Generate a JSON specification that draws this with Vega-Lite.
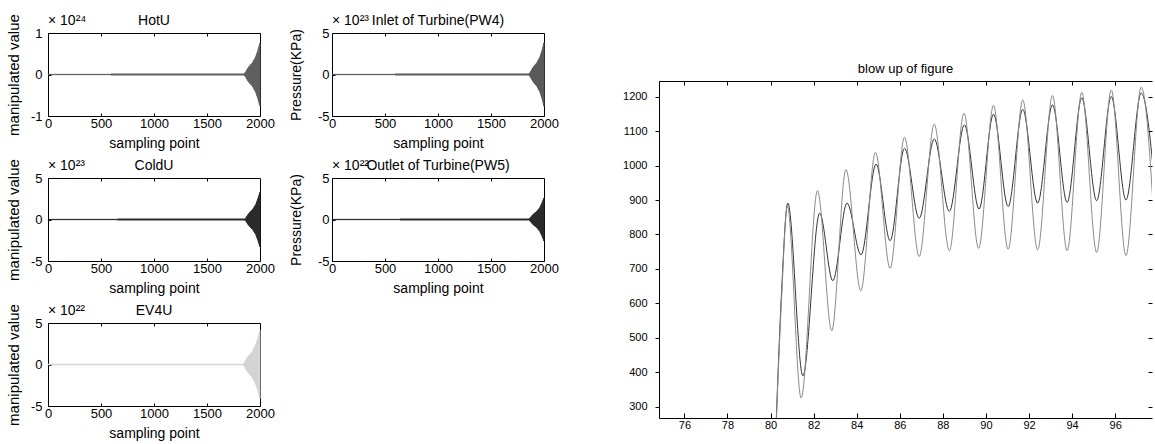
{
  "$schema": "https://vega.github.io/schema/vega-lite/v6.json",
  "padding": {"left": 5, "top": 13, "right": 0, "bottom": 0},
  "background": "white",
  "config": {
    "font": "Liberation Sans",
    "view": {"stroke": "black", "strokeWidth": 1},
    "axis": {"grid": false, "domainColor": "black", "tickColor": "black", "labelColor": "black", "titleColor": "black", "titleFontWeight": "normal", "labelFontSize": 13, "titleFontSize": 14, "labelFlush": false, "labelOverlap": false},
    "title": {"fontWeight": "normal", "color": "black", "fontSize": 13}
  },
  "spacing": 63,
  "hconcat": [
    {
      "columns": 2,
      "bounds": "flush",
      "spacing": {"row": 62, "column": 72},
      "concat": [
        {
          "width": 212, "height": 83,
          "resolve": {"axis": {"x": "independent", "y": "independent"}},
          "layer": [
            {
              "data": {"values": [
                {"x": 0, "hi": 0.003, "lo": -0.003}, {"x": 592, "hi": 0.003, "lo": -0.003},
                {"x": 593, "hi": 0.012, "lo": -0.012}, {"x": 1849, "hi": 0.012, "lo": -0.012},
                {"x": 1865, "hi": 0.06, "lo": -0.06}, {"x": 1880, "hi": 0.13, "lo": -0.13},
                {"x": 1896, "hi": 0.19, "lo": -0.19}, {"x": 1928, "hi": 0.28, "lo": -0.28},
                {"x": 1959, "hi": 0.42, "lo": -0.42}, {"x": 1980, "hi": 0.58, "lo": -0.58},
                {"x": 2000, "hi": 0.76, "lo": -0.76}
              ]},
              "mark": {"type": "area", "color": "#5f5f5f", "stroke": "#5f5f5f", "strokeWidth": 1},
              "encoding": {
                "x": {"field": "x", "type": "quantitative", "scale": {"domain": [0, 2000], "nice": false, "zero": false}, "axis": {"title": "sampling point", "values": [0, 500, 1000, 1500, 2000], "tickSize": -3, "labelPadding": 4, "titlePadding": 6, "domain": false, "labelExpr": "'' + datum.value"}},
                "y": {"field": "hi", "type": "quantitative", "scale": {"domain": [-1, 1], "nice": false}, "axis": {"title": "manipulated value", "values": [-1, 0, 1], "tickSize": -3, "labelPadding": 9, "titlePadding": 9, "titleFontSize": 15, "domain": false, "labelExpr": "'' + datum.value"}},
                "y2": {"field": "lo"}
              }
            },
            {
              "data": {"values": [{"t": "× 10²⁴"}]},
              "mark": {"type": "text", "align": "left", "baseline": "alphabetic", "dy": -8, "fontSize": 14},
              "encoding": {
                "text": {"field": "t"},
                "x": {"datum": 0, "type": "quantitative", "axis": {"orient": "top", "values": [500, 1000, 1500], "tickSize": -3, "labels": false, "domain": false, "title": null}},
                "y": {"datum": 1, "type": "quantitative", "axis": {"orient": "right", "values": [0], "tickSize": -3, "labels": false, "domain": false, "title": null}}
              }
            },
            {
              "data": {"values": [{"t": "HotU"}]},
              "mark": {"type": "text", "align": "center", "baseline": "alphabetic", "dy": -8, "fontSize": 14},
              "encoding": {"text": {"field": "t"}, "x": {"datum": 1000, "type": "quantitative", "axis": null}, "y": {"datum": 1, "type": "quantitative", "axis": null}}
            }
          ]
        },
        {
          "width": 212, "height": 83,
          "resolve": {"axis": {"x": "independent", "y": "independent"}},
          "layer": [
            {
              "data": {"values": [
                {"x": 0, "hi": 0.015, "lo": -0.015}, {"x": 595, "hi": 0.015, "lo": -0.015},
                {"x": 596, "hi": 0.06, "lo": -0.06}, {"x": 1858, "hi": 0.06, "lo": -0.06},
                {"x": 1872, "hi": 0.3, "lo": -0.3}, {"x": 1887, "hi": 0.65, "lo": -0.65},
                {"x": 1902, "hi": 0.95, "lo": -0.95}, {"x": 1932, "hi": 1.4, "lo": -1.4},
                {"x": 1962, "hi": 2.1, "lo": -2.1}, {"x": 1982, "hi": 2.9, "lo": -2.9},
                {"x": 2000, "hi": 3.85, "lo": -3.85}
              ]},
              "mark": {"type": "area", "color": "#5a5a5a", "stroke": "#5a5a5a", "strokeWidth": 1},
              "encoding": {
                "x": {"field": "x", "type": "quantitative", "scale": {"domain": [0, 2000], "nice": false, "zero": false}, "axis": {"title": "sampling point", "values": [0, 500, 1000, 1500, 2000], "tickSize": -3, "labelPadding": 4, "titlePadding": 6, "domain": false, "labelExpr": "'' + datum.value"}},
                "y": {"field": "hi", "type": "quantitative", "scale": {"domain": [-5, 5], "nice": false}, "axis": {"title": "Pressure(KPa)", "values": [-5, 0, 5], "tickSize": -3, "labelPadding": 6, "titlePadding": 14, "titleFontSize": 14, "domain": false, "labelExpr": "'' + datum.value"}},
                "y2": {"field": "lo"}
              }
            },
            {
              "data": {"values": [{"t": "× 10²³"}]},
              "mark": {"type": "text", "align": "left", "baseline": "alphabetic", "dy": -8, "fontSize": 14},
              "encoding": {
                "text": {"field": "t"},
                "x": {"datum": 0, "type": "quantitative", "axis": {"orient": "top", "values": [500, 1000, 1500], "tickSize": -3, "labels": false, "domain": false, "title": null}},
                "y": {"datum": 5, "type": "quantitative", "axis": {"orient": "right", "values": [0], "tickSize": -3, "labels": false, "domain": false, "title": null}}
              }
            },
            {
              "data": {"values": [{"t": "Inlet of Turbine(PW4)"}]},
              "mark": {"type": "text", "align": "center", "baseline": "alphabetic", "dy": -8, "fontSize": 14},
              "encoding": {"text": {"field": "t"}, "x": {"datum": 1000, "type": "quantitative", "axis": null}, "y": {"datum": 5, "type": "quantitative", "axis": null}}
            }
          ]
        },
        {
          "width": 212, "height": 83,
          "resolve": {"axis": {"x": "independent", "y": "independent"}},
          "layer": [
            {
              "data": {"values": [
                {"x": 0, "hi": 0.015, "lo": -0.015}, {"x": 653, "hi": 0.015, "lo": -0.015},
                {"x": 654, "hi": 0.06, "lo": -0.06}, {"x": 1855, "hi": 0.06, "lo": -0.06},
                {"x": 1870, "hi": 0.26, "lo": -0.26}, {"x": 1885, "hi": 0.56, "lo": -0.56},
                {"x": 1900, "hi": 0.82, "lo": -0.82}, {"x": 1930, "hi": 1.2, "lo": -1.2},
                {"x": 1960, "hi": 1.8, "lo": -1.8}, {"x": 1980, "hi": 2.5, "lo": -2.5},
                {"x": 2000, "hi": 3.3, "lo": -3.3}
              ]},
              "mark": {"type": "area", "color": "#2b2b2b", "stroke": "#2b2b2b", "strokeWidth": 1},
              "encoding": {
                "x": {"field": "x", "type": "quantitative", "scale": {"domain": [0, 2000], "nice": false, "zero": false}, "axis": {"title": "sampling point", "values": [0, 500, 1000, 1500, 2000], "tickSize": -3, "labelPadding": 4, "titlePadding": 6, "domain": false, "labelExpr": "'' + datum.value"}},
                "y": {"field": "hi", "type": "quantitative", "scale": {"domain": [-5, 5], "nice": false}, "axis": {"title": "manipulated value", "values": [-5, 0, 5], "tickSize": -3, "labelPadding": 9, "titlePadding": 9, "titleFontSize": 15, "domain": false, "labelExpr": "'' + datum.value"}},
                "y2": {"field": "lo"}
              }
            },
            {
              "data": {"values": [{"t": "× 10²³"}]},
              "mark": {"type": "text", "align": "left", "baseline": "alphabetic", "dy": -8, "fontSize": 14},
              "encoding": {
                "text": {"field": "t"},
                "x": {"datum": 0, "type": "quantitative", "axis": {"orient": "top", "values": [500, 1000, 1500], "tickSize": -3, "labels": false, "domain": false, "title": null}},
                "y": {"datum": 5, "type": "quantitative", "axis": {"orient": "right", "values": [0], "tickSize": -3, "labels": false, "domain": false, "title": null}}
              }
            },
            {
              "data": {"values": [{"t": "ColdU"}]},
              "mark": {"type": "text", "align": "center", "baseline": "alphabetic", "dy": -8, "fontSize": 14},
              "encoding": {"text": {"field": "t"}, "x": {"datum": 1000, "type": "quantitative", "axis": null}, "y": {"datum": 5, "type": "quantitative", "axis": null}}
            }
          ]
        },
        {
          "width": 212, "height": 83,
          "resolve": {"axis": {"x": "independent", "y": "independent"}},
          "layer": [
            {
              "data": {"values": [
                {"x": 0, "hi": 0.015, "lo": -0.015}, {"x": 640, "hi": 0.015, "lo": -0.015},
                {"x": 641, "hi": 0.06, "lo": -0.06}, {"x": 1855, "hi": 0.06, "lo": -0.06},
                {"x": 1870, "hi": 0.2, "lo": -0.2}, {"x": 1885, "hi": 0.44, "lo": -0.44},
                {"x": 1900, "hi": 0.65, "lo": -0.65}, {"x": 1930, "hi": 0.95, "lo": -0.95},
                {"x": 1960, "hi": 1.42, "lo": -1.42}, {"x": 1980, "hi": 1.97, "lo": -1.97},
                {"x": 2000, "hi": 2.6, "lo": -2.6}
              ]},
              "mark": {"type": "area", "color": "#2b2b2b", "stroke": "#2b2b2b", "strokeWidth": 1},
              "encoding": {
                "x": {"field": "x", "type": "quantitative", "scale": {"domain": [0, 2000], "nice": false, "zero": false}, "axis": {"title": "sampling point", "values": [0, 500, 1000, 1500, 2000], "tickSize": -3, "labelPadding": 4, "titlePadding": 6, "domain": false, "labelExpr": "'' + datum.value"}},
                "y": {"field": "hi", "type": "quantitative", "scale": {"domain": [-5, 5], "nice": false}, "axis": {"title": "Pressure(KPa)", "values": [-5, 0, 5], "tickSize": -3, "labelPadding": 6, "titlePadding": 14, "titleFontSize": 14, "domain": false, "labelExpr": "'' + datum.value"}},
                "y2": {"field": "lo"}
              }
            },
            {
              "data": {"values": [{"t": "× 10²²"}]},
              "mark": {"type": "text", "align": "left", "baseline": "alphabetic", "dy": -8, "fontSize": 14},
              "encoding": {
                "text": {"field": "t"},
                "x": {"datum": 0, "type": "quantitative", "axis": {"orient": "top", "values": [500, 1000, 1500], "tickSize": -3, "labels": false, "domain": false, "title": null}},
                "y": {"datum": 5, "type": "quantitative", "axis": {"orient": "right", "values": [0], "tickSize": -3, "labels": false, "domain": false, "title": null}}
              }
            },
            {
              "data": {"values": [{"t": "Outlet of Turbine(PW5)"}]},
              "mark": {"type": "text", "align": "center", "baseline": "alphabetic", "dy": -8, "fontSize": 14},
              "encoding": {"text": {"field": "t"}, "x": {"datum": 1000, "type": "quantitative", "axis": null}, "y": {"datum": 5, "type": "quantitative", "axis": null}}
            }
          ]
        },
        {
          "width": 212, "height": 83,
          "resolve": {"axis": {"x": "independent", "y": "independent"}},
          "layer": [
            {
              "data": {"values": [
                {"x": 0, "hi": 0.03, "lo": -0.03}, {"x": 1842, "hi": 0.03, "lo": -0.03},
                {"x": 1858, "hi": 0.3, "lo": -0.3}, {"x": 1873, "hi": 0.7, "lo": -0.7},
                {"x": 1890, "hi": 1.0, "lo": -1.0}, {"x": 1925, "hi": 1.5, "lo": -1.5},
                {"x": 1958, "hi": 2.3, "lo": -2.3}, {"x": 1980, "hi": 3.1, "lo": -3.1},
                {"x": 2000, "hi": 4.1, "lo": -4.1}
              ]},
              "mark": {"type": "area", "color": "#d4d4d4", "stroke": "#d4d4d4", "strokeWidth": 1},
              "encoding": {
                "x": {"field": "x", "type": "quantitative", "scale": {"domain": [0, 2000], "nice": false, "zero": false}, "axis": {"title": "sampling point", "values": [0, 500, 1000, 1500, 2000], "tickSize": -3, "labelPadding": 4, "titlePadding": 6, "domain": false, "labelExpr": "'' + datum.value"}},
                "y": {"field": "hi", "type": "quantitative", "scale": {"domain": [-5, 5], "nice": false}, "axis": {"title": "manipulated value", "values": [-5, 0, 5], "tickSize": -3, "labelPadding": 9, "titlePadding": 9, "titleFontSize": 15, "domain": false, "labelExpr": "'' + datum.value"}},
                "y2": {"field": "lo"}
              }
            },
            {
              "data": {"values": [{"t": "× 10²²"}]},
              "mark": {"type": "text", "align": "left", "baseline": "alphabetic", "dy": -8, "fontSize": 14},
              "encoding": {
                "text": {"field": "t"},
                "x": {"datum": 0, "type": "quantitative", "axis": {"orient": "top", "values": [500, 1000, 1500], "tickSize": -3, "labels": false, "domain": false, "title": null}},
                "y": {"datum": 5, "type": "quantitative", "axis": {"orient": "right", "values": [0], "tickSize": -3, "labels": false, "domain": false, "title": null}}
              }
            },
            {
              "data": {"values": [{"t": "EV4U"}]},
              "mark": {"type": "text", "align": "center", "baseline": "alphabetic", "dy": -8, "fontSize": 14},
              "encoding": {"text": {"field": "t"}, "x": {"datum": 1000, "type": "quantitative", "axis": null}, "y": {"datum": 5, "type": "quantitative", "axis": null}}
            }
          ]
        }
      ]
    },
    {
      "bounds": "flush",
      "spacing": 47,
      "vconcat": [
        {
          "width": 493, "height": 1,
          "view": {"stroke": null},
          "data": {"values": []},
          "mark": {"type": "point", "opacity": 0},
          "encoding": {}
        },
        {
          "width": 493, "height": 337,
          "view": {"stroke": null},
          "title": {"text": "blow up of figure", "fontSize": 13, "offset": 5},
          "data": {"values": [
            {"s": "dark", "t": 80.2, "v": 150}, {"s": "dark", "t": 80.5, "v": 620}, {"s": "dark", "t": 80.8, "v": 891},
            {"s": "dark", "t": 81.5, "v": 390}, {"s": "dark", "t": 82.28, "v": 862}, {"s": "dark", "t": 82.89, "v": 666},
            {"s": "dark", "t": 83.55, "v": 891}, {"s": "dark", "t": 84.2, "v": 741}, {"s": "dark", "t": 84.9, "v": 1004},
            {"s": "dark", "t": 85.55, "v": 782}, {"s": "dark", "t": 86.22, "v": 1050}, {"s": "dark", "t": 86.9, "v": 847},
            {"s": "dark", "t": 87.6, "v": 1077}, {"s": "dark", "t": 88.3, "v": 867}, {"s": "dark", "t": 89.0, "v": 1118},
            {"s": "dark", "t": 89.68, "v": 874}, {"s": "dark", "t": 90.35, "v": 1149}, {"s": "dark", "t": 91.03, "v": 881},
            {"s": "dark", "t": 91.71, "v": 1163}, {"s": "dark", "t": 92.4, "v": 891}, {"s": "dark", "t": 93.09, "v": 1176},
            {"s": "dark", "t": 93.77, "v": 893}, {"s": "dark", "t": 94.45, "v": 1196}, {"s": "dark", "t": 95.14, "v": 898},
            {"s": "dark", "t": 95.82, "v": 1200}, {"s": "dark", "t": 96.5, "v": 900}, {"s": "dark", "t": 97.21, "v": 1210},
            {"s": "dark", "t": 97.9, "v": 902},
            {"s": "gray", "t": 80.2, "v": 150}, {"s": "gray", "t": 80.5, "v": 600}, {"s": "gray", "t": 80.78, "v": 882},
            {"s": "gray", "t": 81.42, "v": 326}, {"s": "gray", "t": 82.18, "v": 927}, {"s": "gray", "t": 82.84, "v": 521},
            {"s": "gray", "t": 83.5, "v": 988}, {"s": "gray", "t": 84.19, "v": 637}, {"s": "gray", "t": 84.87, "v": 1038},
            {"s": "gray", "t": 85.55, "v": 702}, {"s": "gray", "t": 86.22, "v": 1082}, {"s": "gray", "t": 86.9, "v": 736},
            {"s": "gray", "t": 87.6, "v": 1120}, {"s": "gray", "t": 88.3, "v": 753}, {"s": "gray", "t": 88.98, "v": 1152},
            {"s": "gray", "t": 89.66, "v": 760}, {"s": "gray", "t": 90.35, "v": 1174}, {"s": "gray", "t": 91.03, "v": 757},
            {"s": "gray", "t": 91.71, "v": 1190}, {"s": "gray", "t": 92.4, "v": 755}, {"s": "gray", "t": 93.09, "v": 1203},
            {"s": "gray", "t": 93.77, "v": 753}, {"s": "gray", "t": 94.45, "v": 1212}, {"s": "gray", "t": 95.14, "v": 748},
            {"s": "gray", "t": 95.82, "v": 1219}, {"s": "gray", "t": 96.5, "v": 739}, {"s": "gray", "t": 97.21, "v": 1227},
            {"s": "gray", "t": 97.9, "v": 735}
          ]},
          "resolve": {"axis": {"x": "independent", "y": "independent"}},
          "layer": [
            {
              "mark": {"type": "line", "interpolate": "monotone", "strokeWidth": 1, "clip": true},
              "encoding": {
                "x": {"field": "t", "type": "quantitative", "scale": {"domain": [74.82, 97.71], "nice": false, "zero": false}, "axis": {"title": null, "values": [76, 78, 80, 82, 84, 86, 88, 90, 92, 94, 96], "tickSize": -5, "labelPadding": 6, "labelFontSize": 11, "labelExpr": "'' + datum.value"}},
                "y": {"field": "v", "type": "quantitative", "scale": {"domain": [268, 1245], "nice": false, "zero": false}, "axis": {"title": null, "values": [300, 400, 500, 600, 700, 800, 900, 1000, 1100, 1200], "tickSize": 4, "labelPadding": 8, "labelFontSize": 11, "labelExpr": "'' + datum.value"}},
                "color": {"field": "s", "type": "nominal", "scale": {"domain": ["dark", "gray"], "range": ["#333333", "#8a8a8a"]}, "legend": null}
              }
            },
            {
              "mark": {"type": "line", "strokeOpacity": 0, "clip": true},
              "encoding": {
                "x": {"field": "t", "type": "quantitative", "axis": {"orient": "top", "title": null, "values": [76, 78, 80, 82, 84, 86, 88, 90, 92, 94, 96], "tickSize": -4, "labels": false}},
                "y": {"field": "v", "type": "quantitative", "axis": {"orient": "right", "title": null, "values": [300, 400, 500, 600, 700, 800, 900, 1000, 1100, 1200], "tickSize": -4, "labels": false, "domain": false}},
                "detail": {"field": "s"}
              }
            }
          ]
        }
      ]
    }
  ]
}
